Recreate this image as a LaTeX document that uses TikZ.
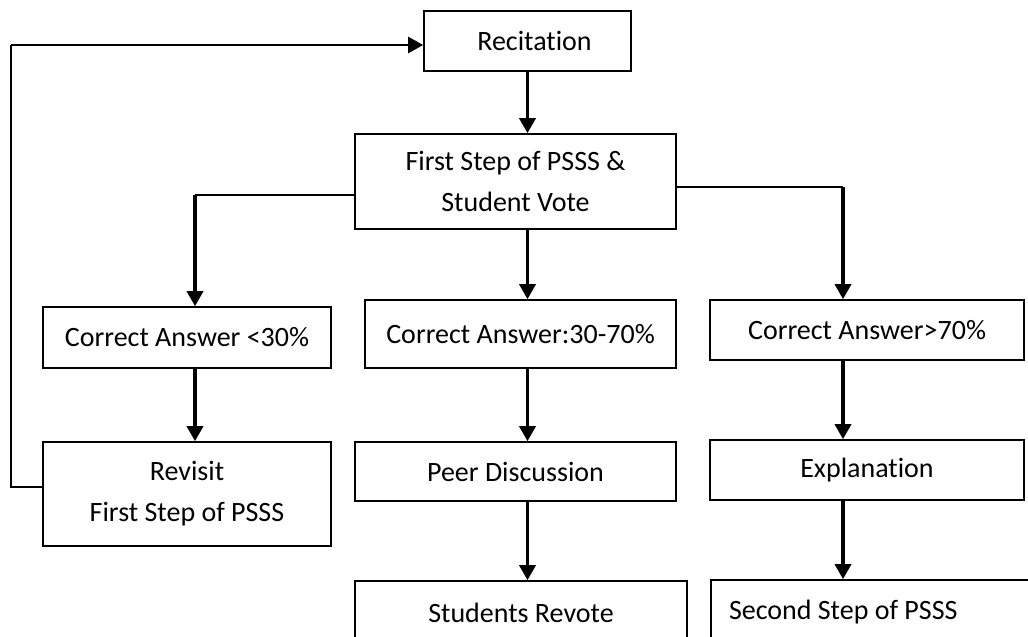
\documentclass[tikz,border=0pt]{standalone}
\usepackage{fontspec}
\setmainfont{Carlito}[Ligatures={NoCommon}]
\usetikzlibrary{arrows.meta}
\tikzset{
  box/.style={draw=black, line width=1.6pt, fill=white, align=center, inner sep=0pt,
    font=\fontsize{28}{41}\selectfont},
  thinline/.style={draw=black, line width=1.6pt},
  arr/.style={draw=black, line width=3.4pt, -{Triangle[length=15pt,width=16pt]}},
  arrmid/.style={draw=black, line width=2.6pt, -{Triangle[length=15pt,width=16pt]}},
}
\begin{document}
\begin{tikzpicture}[x=1pt,y=-1pt]
\useasboundingbox (0,0) rectangle (1028,637);
\fill[white] (0,0) rectangle (1028,637);
\clip (0,0) rectangle (1028,637);
% nodes
\node[box, minimum width=207pt, minimum height=60pt] (rec) at (527.5,41) {\hspace*{14pt}Recitation};
\node[box, minimum width=321pt, minimum height=95pt] (fs) at (515.5,181.5) {First Step of PSSS \&\\Student Vote};
\node[box, minimum width=288pt, minimum height=61pt] (c1) at (187,337.5) {Correct Answer <30\%};
\node[box, minimum width=311pt, minimum height=68pt] (c2) at (520.5,334) {Correct Answer:30-70\%};
\node[box, minimum width=314pt, minimum height=60pt] (c3) at (867,330) {Correct Answer>70\%};
\node[box, minimum width=288pt, minimum height=104pt] (rv) at (187,494) {Revisit\\First Step of PSSS};
\node[box, minimum width=321pt, minimum height=59pt] (pd) at (515.5,471.5) {Peer Discussion};
\node[box, minimum width=314pt, minimum height=60pt] (ex) at (867,470) {Explanation};
\node[box, minimum width=332pt, minimum height=64pt] (sr) at (521,613) {Students Revote};
\node[box, minimum width=329pt, minimum height=64pt] (ss) at (875.5,612) {\makebox[293pt][l]{Second Step of PSSS}};
% junction coordinates
\coordinate (jL) at (195,195);
\coordinate (jR) at (843,187);
\coordinate (lb) at (11,487);
\coordinate (lt) at (11,45);
% connectors
\draw[arr] (rec.south) -- (rec.south |- fs.north);
\draw[arr] (fs.south -| rec.south) -- (c2.north -| rec.south);
\draw[arr] (c2.south -| rec.south) -- (pd.north -| rec.south);
\draw[arr] (pd.south -| rec.south) -- (sr.north -| rec.south);
\draw[thinline] (fs.west |- jL) -- (jL);
\draw[arr] (jL) -- (jL |- c1.north);
\draw[arr] (c1.south -| jL) -- (rv.north -| jL);
\draw[thinline] (fs.east |- jR) -- (jR);
\draw[arr] (jR) -- (jR |- c3.north);
\draw[arr] (c3.south -| jR) -- (ex.north -| jR);
\draw[arr] (ex.south -| jR) -- (ss.north -| jR);
\draw[thinline] (rv.west |- lb) -- (lb) -- (lt);
\draw[arrmid] (lt) -- (lt -| rec.west);
\end{tikzpicture}
\end{document}
